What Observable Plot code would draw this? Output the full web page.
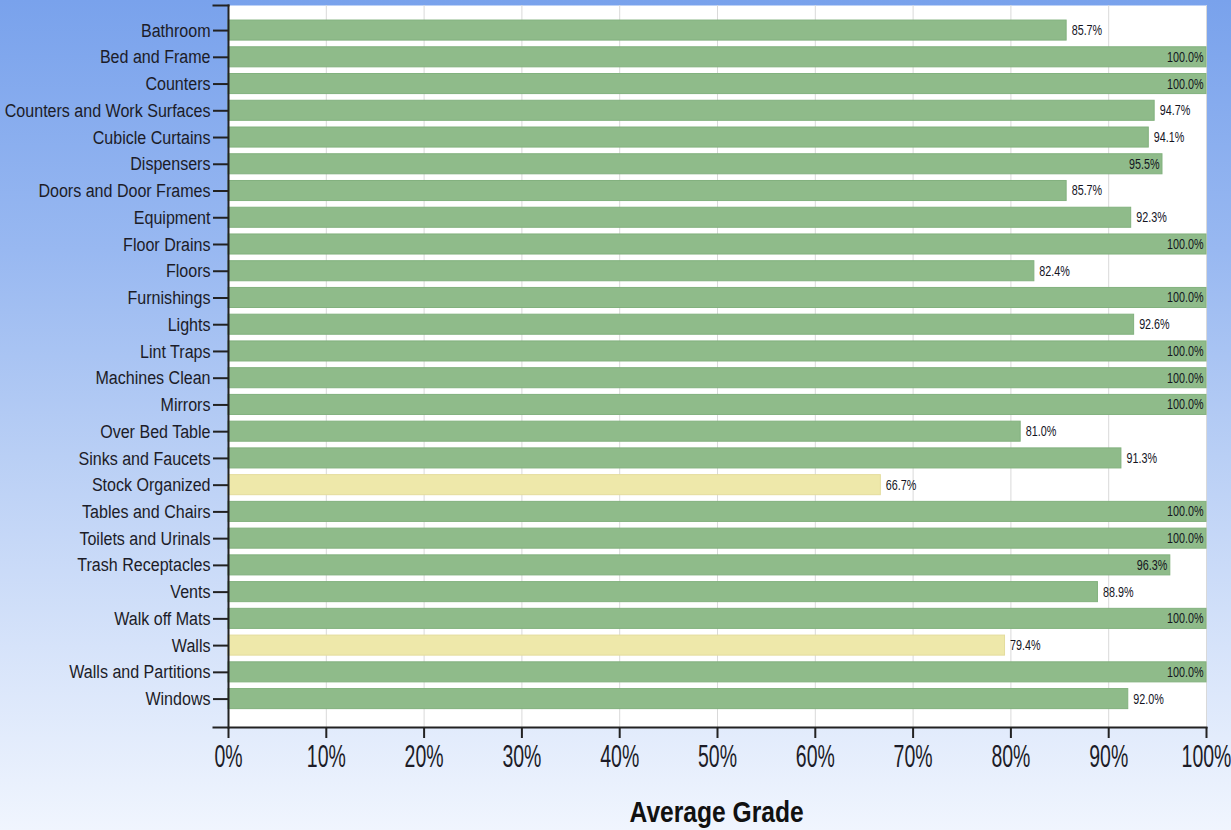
<!DOCTYPE html>
<html>
<head>
<meta charset="utf-8">
<script src="https://cdn.jsdelivr.net/npm/d3@7"></script>
<script src="https://cdn.jsdelivr.net/npm/@observablehq/plot@0.6"></script>
<style>
  html, body { margin: 0; padding: 0; }
  body {
    width: 1231px; height: 830px; overflow: hidden; position: relative;
    background: linear-gradient(to bottom, #79a2ec 0%, #98b8f1 30%, #b9cff5 55%, #d6e3fa 78%, #f0f5fe 100%);
    font-family: "Liberation Sans", Arial, sans-serif;
  }
  #chart { position: absolute; left: 0; top: 0; }
  #xtitle {
    position: absolute; left: 228px; width: 978px; top: 797px;
    text-align: center; font-weight: bold; font-size: 30px; line-height: 30px; color: #111;
    transform: scaleX(0.82); transform-origin: 487px 15px;
  }
</style>
</head>
<body>
<div id="chart"></div>
<div id="xtitle">Average Grade</div>
<script>
const categories = [
  "Bathroom", "Bed and Frame", "Counters", "Counters and Work Surfaces", "Cubicle Curtains",
  "Dispensers", "Doors and Door Frames", "Equipment", "Floor Drains", "Floors",
  "Furnishings", "Lights", "Lint Traps", "Machines Clean", "Mirrors",
  "Over Bed Table", "Sinks and Faucets", "Stock Organized", "Tables and Chairs", "Toilets and Urinals",
  "Trash Receptacles", "Vents", "Walk off Mats", "Walls", "Walls and Partitions", "Windows"
];
const grades = [
  85.7, 100.0, 100.0, 94.7, 94.1,
  95.5, 85.7, 92.3, 100.0, 82.4,
  100.0, 92.6, 100.0, 100.0, 100.0,
  81.0, 91.3, 66.7, 100.0, 100.0,
  96.3, 88.9, 100.0, 79.4, 100.0, 92.0
];
const xTicks = [0, 10, 20, 30, 40, 50, 60, 70, 80, 90, 100];

const data = categories.map((c, i) => ({category: c, grade: grades[i]}));
const fmt = d => d.grade.toFixed(1) + "%";
const font = '"Liberation Sans", Arial, sans-serif';

const chart = Plot.plot({
  width: 1231,
  height: 780,
  marginLeft: 228,
  marginRight: 25,
  marginTop: 5,
  marginBottom: 53,
  style: {background: "transparent", fontFamily: font, color: "#1c1c28", overflow: "visible"},
  x: {domain: [0, 100]},
  y: {domain: categories, paddingInner: 0.25, paddingOuter: 0.625, align: 0.45, round: false},
  marks: [
    Plot.frame({fill: "white", stroke: null}),
    Plot.gridX(xTicks, {stroke: "#d9d9d9", strokeOpacity: 1, strokeWidth: 1}),
    Plot.barX(data, {
      x: "grade", y: "category",
      fill: d => d.grade < 80 ? "#eee8aa" : "#8fbb8a",
      stroke: d => d.grade < 80 ? "#e4dc9c" : "#82b17e", strokeWidth: 1
    }),
    Plot.text(data.filter(d => d.grade < 95), {
      x: "grade", y: "category", text: fmt, textAnchor: "start", dx: 5,
      fontSize: 14, fill: "#15151f"
    }),
    Plot.text(data.filter(d => d.grade >= 95), {
      x: "grade", y: "category", text: fmt, textAnchor: "end", dx: -3,
      fontSize: 14, fill: "#15151f"
    }),
    Plot.axisY({tickSize: 15, tickPadding: 3, fontSize: 19, stroke: "#222", strokeWidth: 2, strokeOpacity: 1, label: null}),
    Plot.axisX({ticks: xTicks, tickFormat: d => d + "%", tickSize: 11, tickPadding: 7, fontSize: 30, stroke: "#222", strokeWidth: 2, strokeOpacity: 1, label: null}),
    Plot.frame({anchor: "left", stroke: "#222", strokeWidth: 2}),
    Plot.frame({anchor: "bottom", stroke: "#222", strokeWidth: 2, insetLeft: -15}),
    Plot.frame({anchor: "top", stroke: "#222", strokeWidth: 2, insetLeft: -15, insetRight: 978})
  ]
});
document.getElementById("chart").appendChild(chart);

// condense text like the reference's narrow font
function stretch(selector, sx, sy) {
  chart.querySelectorAll(selector).forEach(t => {
    const tr = t.getAttribute("transform");
    if (tr && tr.includes("translate")) {
      t.setAttribute("transform", tr + ` scale(${sx},${sy})`);
    } else {
      const x = +t.getAttribute("x") || 0, y = +t.getAttribute("y") || 0;
      t.setAttribute("transform", `translate(${x},${y}) scale(${sx},${sy}) translate(${-x},${-y})`);
    }
  });
}
stretch('[aria-label="x-axis tick label"] text', 0.65, 1.02);
stretch('[aria-label="y-axis tick label"] text', 0.845, 1);
stretch('g[aria-label="text"] text', 0.77, 1);
</script>
</body>
</html>
